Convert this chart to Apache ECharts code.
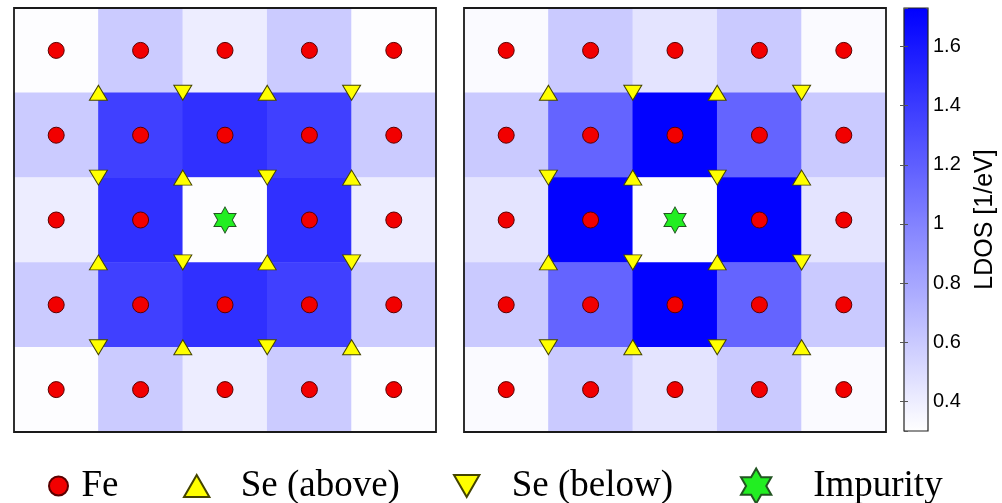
<!DOCTYPE html>
<html>
<head>
<meta charset="utf-8">
<script src="https://cdn.jsdelivr.net/npm/echarts@6/dist/echarts.min.js"></script>
<style>
html,body{margin:0;padding:0;background:#fff;}
#chart{width:1002px;height:503px;}
</style>
</head>
<body>
<div id="chart"></div>
<script>
// ---- data ----
const cells = ['0', '1', '2', '3', '4'];
// LDOS [1/eV], rows top -> bottom, columns left -> right
const ldosLeft = [
  [0.31, 0.59, 0.40, 0.59, 0.31],
  [0.59, 1.37, 1.46, 1.37, 0.59],
  [0.40, 1.46, 0.31, 1.46, 0.40],
  [0.59, 1.37, 1.46, 1.37, 0.59],
  [0.31, 0.59, 0.40, 0.59, 0.31]
];
const ldosRight = [
  [0.33, 0.60, 0.45, 0.60, 0.33],
  [0.60, 1.17, 1.72, 1.17, 0.60],
  [0.45, 1.72, 0.31, 1.72, 0.45],
  [0.60, 1.17, 1.72, 1.17, 0.60],
  [0.33, 0.60, 0.45, 0.60, 0.33]
];
const fePoints = [
  [0,0],[1,0],[2,0],[3,0],[4,0],
  [0,1],[1,1],[2,1],[3,1],[4,1],
  [0,2],[1,2],[3,2],[4,2],
  [0,3],[1,3],[2,3],[3,3],[4,3],
  [0,4],[1,4],[2,4],[3,4],[4,4]
];
const seAbovePoints = [[0.5,0.5],[2.5,0.5],[1.5,1.5],[3.5,1.5],[0.5,2.5],[2.5,2.5],[1.5,3.5],[3.5,3.5]];
const seBelowPoints = [[1.5,0.5],[3.5,0.5],[0.5,1.5],[2.5,1.5],[1.5,2.5],[3.5,2.5],[0.5,3.5],[2.5,3.5]];
const impurityPoints = [[2,2]];
const ldosMin = 0.30, ldosMax = 1.73;
const legendNames = ['Fe', 'Se (above)', 'Se (below)', 'Impurity'];

// ---- build ----
function toHeat(m) {
  const out = [];
  m.forEach((row, r) => row.forEach((v, c) => out.push([c, r, v])));
  return out;
}
const upTri = 'path://M1,0L2,1.732L0,1.732Z';
const downTri = 'path://M0,0L2,0L1,1.732Z';
const star = 'path://M1,0L1.2887,0.5L1.866,0.5L1.577,1L1.866,1.5L1.2887,1.5L1,2L0.7113,1.5L0.134,1.5L0.423,1L0.134,0.5L0.7113,0.5Z';

const series = [];
[0, 1].forEach(g => {
  series.push({
    type: 'heatmap', xAxisIndex: g * 2, yAxisIndex: g * 2,
    data: toHeat(g === 0 ? ldosLeft : ldosRight),
    itemStyle: { borderWidth: 0 }, emphasis: { disabled: true }, silent: true
  });
});
[0, 1].forEach(g => {
  const xi = g * 2 + 1, yi = g * 2 + 1;
  series.push({
    name: legendNames[0], type: 'scatter', xAxisIndex: xi, yAxisIndex: yi,
    data: fePoints, symbol: 'circle', symbolSize: 16, z: 5,
    itemStyle: { color: '#f20000', borderColor: '#5a0000', borderWidth: 1, opacity: 1 }
  });
  series.push({
    name: legendNames[1], type: 'scatter', xAxisIndex: xi, yAxisIndex: yi,
    data: seAbovePoints, symbol: upTri, symbolSize: [18, 15], z: 5,
    itemStyle: { color: '#ffff00', borderColor: '#444400', borderWidth: 1, opacity: 1 }
  });
  series.push({
    name: legendNames[2], type: 'scatter', xAxisIndex: xi, yAxisIndex: yi,
    data: seBelowPoints, symbol: downTri, symbolSize: [18, 15], z: 5,
    itemStyle: { color: '#ffff00', borderColor: '#444400', borderWidth: 1, opacity: 1 }
  });
  series.push({
    name: legendNames[3], type: 'scatter', xAxisIndex: xi, yAxisIndex: yi,
    data: impurityPoints, symbol: star, symbolSize: [22, 26], z: 5,
    itemStyle: { color: '#22ee22', borderColor: '#225522', borderWidth: 1, opacity: 1 }
  });
});

const legendFont = { fontFamily: 'Liberation Serif', fontSize: 37, color: '#000', lineHeight: 38 };
const legendSpec = [
  { name: 'Fe', left: 48, w: 36, h: 19 },
  { name: 'Se (above)', left: 183, w: 78, h: 22 },
  { name: 'Se (below)', left: 453, w: 80, h: 22 },
  { name: 'Impurity', left: 740, w: 104, h: 35 }
];
const legends = legendSpec.map(s => ({
  data: [s.name], left: s.left, top: 467, padding: 0,
  itemWidth: s.w, itemHeight: s.h, selectedMode: false,
  textStyle: legendFont
}));

const hidden = { show: false };
const option = {
  animation: false,
  backgroundColor: '#ffffff',
  grid: [
    { left: 14, top: 8, width: 422, height: 424, show: true, borderColor: '#1a1a1a', borderWidth: 1.8, backgroundColor: 'transparent', z: 10 },
    { left: 464, top: 8, width: 422, height: 424, show: true, borderColor: '#1a1a1a', borderWidth: 1.8, backgroundColor: 'transparent', z: 10 },
    { left: 904, top: 8, width: 24, height: 423, show: true, borderColor: '#222', borderWidth: 1.2, backgroundColor: 'transparent', z: 10 }
  ],
  xAxis: [
    { type: 'category', data: cells, gridIndex: 0, ...hidden },
    { type: 'value', min: -0.5, max: 4.5, gridIndex: 0, ...hidden },
    { type: 'category', data: cells, gridIndex: 1, ...hidden },
    { type: 'value', min: -0.5, max: 4.5, gridIndex: 1, ...hidden },
    { type: 'value', min: 0, max: 1, gridIndex: 2, ...hidden }
  ],
  yAxis: [
    { type: 'category', data: cells, gridIndex: 0, inverse: true, ...hidden },
    { type: 'value', min: -0.5, max: 4.5, gridIndex: 0, inverse: true, ...hidden },
    { type: 'category', data: cells, gridIndex: 1, inverse: true, ...hidden },
    { type: 'value', min: -0.5, max: 4.5, gridIndex: 1, inverse: true, ...hidden },
    {
      type: 'value', gridIndex: 2, position: 'right', min: ldosMin, max: ldosMax,
      minInterval: 0.2, maxInterval: 0.2, z: 12,
      axisLine: { show: false },
      axisTick: { show: true, inside: true, length: 4, lineStyle: { color: '#555' } },
      splitLine: { show: false },
      axisLabel: {
        show: true, margin: 5, showMinLabel: false, showMaxLabel: false,
        fontFamily: 'Liberation Sans', fontSize: 20, color: '#000',
        formatter: v => String(+v.toFixed(1))
      },
      name: 'LDOS [1/eV]', nameLocation: 'middle', nameRotate: 90, nameGap: 45,
      nameTextStyle: { fontFamily: 'Liberation Sans', fontSize: 25, color: '#000' }
    },
    {
      type: 'value', gridIndex: 2, position: 'left', min: ldosMin, max: ldosMax,
      minInterval: 0.2, maxInterval: 0.2, z: 12,
      axisLine: { show: false },
      axisTick: { show: true, inside: true, length: 4, lineStyle: { color: '#555' } },
      splitLine: { show: false }, axisLabel: { show: false }
    }
  ],
  visualMap: {
    type: 'continuous', min: ldosMin, max: ldosMax, seriesIndex: [0, 1],
    inRange: { color: ['#ffffff', '#0000ff'] },
    left: 904, top: 8, itemWidth: 24, itemHeight: 423, padding: 0,
    calculable: false, hoverLink: false, text: null, showLabel: false
  },
  legend: legends,
  series: series
};

const chart = echarts.init(document.getElementById('chart'), null, { renderer: 'canvas' });
chart.setOption(option);
</script>
</body>
</html>
